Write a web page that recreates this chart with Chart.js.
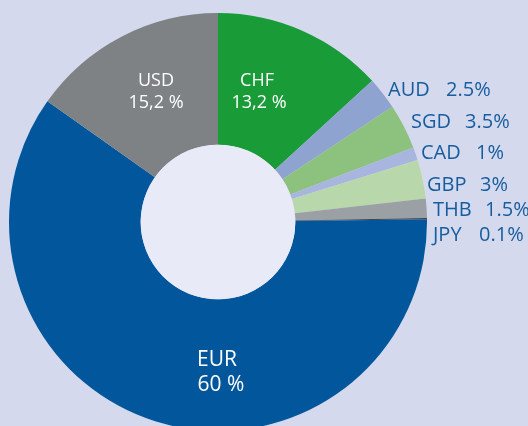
<!DOCTYPE html>
<html>
<head>
<meta charset="utf-8">
<script src="https://cdn.jsdelivr.net/npm/chart.js@4/dist/chart.umd.min.js"></script>
<style>
  html, body { margin: 0; padding: 0; background: #d4d9ed; overflow: hidden; width: 528px; height: 426px; }
  #wrap { position: absolute; left: 0; top: 0; width: 528px; height: 444px; }
</style>
</head>
<body>
<div id="wrap"><canvas id="c" width="528" height="444"></canvas></div>
<script>
// ---- data ----
const categories = ['CHF', 'AUD', 'SGD', 'CAD', 'GBP', 'THB', 'JPY', 'EUR', 'USD'];
const shares = [13.2, 2.5, 3.5, 1, 3, 1.5, 0.1, 60, 15.2];
const shareLabels = ['13,2 %', '2.5%', '3.5%', '1%', '3%', '1.5%', '0.1%', '60 %', '15,2 %'];
const sliceColors = ['#199b38', '#8fa3d1', '#8cc27e', '#a8b5de', '#b8d8ab', '#9ba0a5', '#3e3e3e', '#02569c', '#7e8285'];

// ---- label layout (offsets from doughnut centre, in px) ----
const insideLabels = {
  USD: { dx: -62, nameY: -136, valY: -114, size: 18 },
  CHF: { dx: 39, nameY: -136, valY: -114, size: 18, valDx: 2 },
  EUR: { dx: -1, nameY: 144, valY: 169, size: 21, valDx: 4 }
};
const outsideLabels = {
  AUD: { nx: 170, vx: 228, y: -126 },
  SGD: { nx: 193, vx: 247, y: -94 },
  CAD: { nx: 203, vx: 258, y: -63 },
  GBP: { nx: 209, vx: 262, y: -31 },
  THB: { nx: 215, vx: 267, y: -6 },
  JPY: { nx: 215, vx: 261, y: 19 }
};

const labelPlugin = {
  id: 'labels',
  afterDatasetsDraw(chart) {
    const ctx = chart.ctx;
    const meta = chart.getDatasetMeta(0);
    const a0 = meta.data[0];
    const cx = a0.x, cy = a0.y;
    // inner disc
    ctx.save();
    ctx.beginPath();
    ctx.arc(cx, cy, a0.innerRadius, 0, Math.PI * 2);
    ctx.fillStyle = '#e8ebf7';
    ctx.fill();
    ctx.restore();

    ctx.save();
    ctx.textBaseline = 'alphabetic';
    categories.forEach((cat, i) => {
      const il = insideLabels[cat];
      if (il) {
        ctx.fillStyle = '#ffffff';
        ctx.textAlign = 'center';
        ctx.font = '400 ' + il.size + 'px "Open Sans", "Noto Sans", sans-serif';
        ctx.fillText(cat, cx + il.dx, cy + il.nameY);
        ctx.fillText(shareLabels[i], cx + il.dx + (il.valDx || 0), cy + il.valY);
      }
      const ol = outsideLabels[cat];
      if (ol) {
        ctx.fillStyle = '#165d9f';
        ctx.textAlign = 'left';
        ctx.font = '400 20px "Open Sans", "Noto Sans", sans-serif';
        ctx.fillText(cat, cx + ol.nx, cy + ol.y);
        ctx.fillText(shareLabels[i], cx + ol.vx, cy + ol.y);
      }
    });
    ctx.restore();
  }
};

new Chart(document.getElementById('c'), {
  type: 'doughnut',
  data: {
    labels: categories,
    datasets: [{
      data: shares,
      backgroundColor: sliceColors,
      borderWidth: 0,
      hoverOffset: 0
    }]
  },
  options: {
    responsive: false,
    animation: false,
    cutout: '37%',
    rotation: 0,
    layout: { padding: { left: 9, right: 101, top: 13, bottom: 13 } },
    plugins: {
      legend: { display: false },
      tooltip: { enabled: false },
      title: { display: false }
    }
  },
  plugins: [labelPlugin]
});
</script>
</body>
</html>
